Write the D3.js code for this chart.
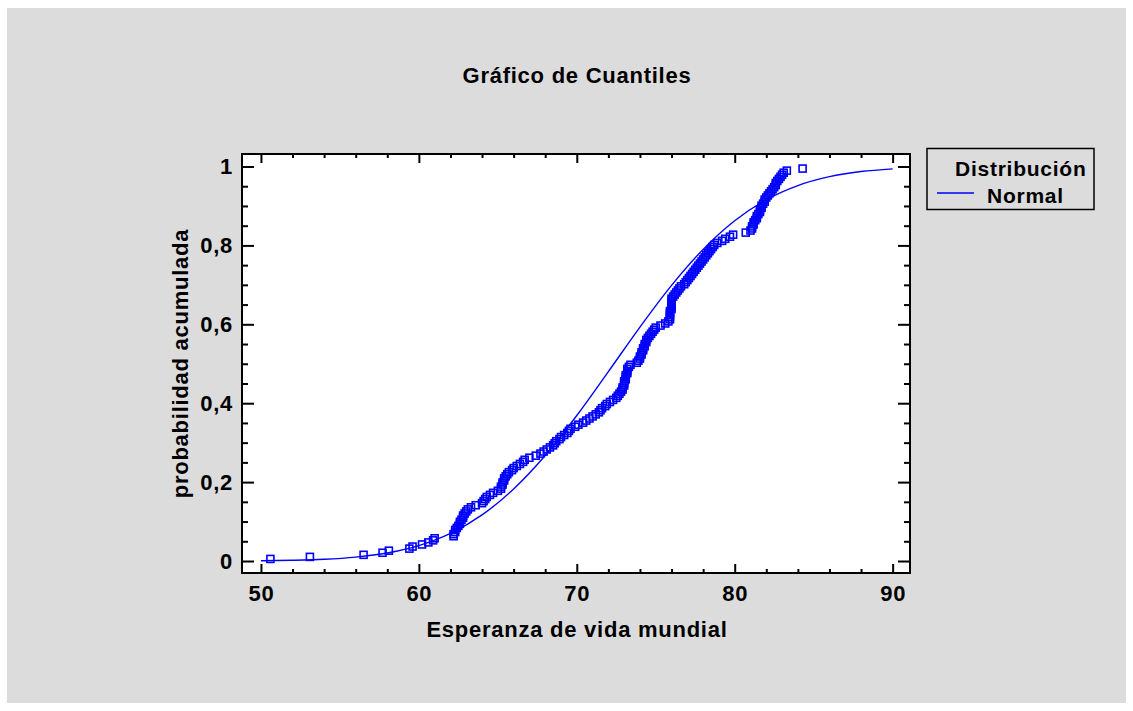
<!DOCTYPE html>
<html>
<head>
<meta charset="utf-8">
<script src="https://cdn.jsdelivr.net/npm/d3@7"></script>
<style>
html,body{margin:0;padding:0;background:#ffffff;}
svg{display:block;}
text{font-family:"Liberation Sans",Arial,sans-serif;font-weight:bold;fill:#000;}
</style>
</head>
<body>
<svg id="chart" width="1133" height="711"></svg>
<script>
// ---- data ----
const title = "Gráfico de Cuantiles";
const xLabel = "Esperanza de vida mundial";
const yLabel = "probabilidad acumulada";
const legendTitle = "Distribución";
const legendItem = "Normal";

// sorted observed values (life expectancy), one per country
const lifeExpectancy = [
  50.6, 53.1, 56.5, 57.7, 58.1, 59.4, 59.6, 60.2, 60.6, 60.9,
  61.0, 62.2, 62.2, 62.3, 62.3, 62.4, 62.5, 62.6, 62.6, 62.7,
  62.8, 62.8, 62.9, 63.0, 63.1, 63.3, 63.6, 64.0, 64.1, 64.2,
  64.3, 64.5, 64.7, 65.0, 65.2, 65.2, 65.3, 65.3, 65.4, 65.4,
  65.5, 65.6, 65.7, 65.9, 66.0, 66.2, 66.4, 66.6, 66.7, 67.0,
  67.4, 67.7, 67.9, 68.1, 68.3, 68.5, 68.6, 68.7, 68.9, 69.0,
  69.2, 69.4, 69.5, 69.6, 69.9, 70.1, 70.4, 70.6, 70.8, 71.0,
  71.2, 71.4, 71.5, 71.6, 71.8, 71.9, 72.1, 72.3, 72.5, 72.6,
  72.7, 72.8, 72.9, 72.9, 73.0, 73.0, 73.0, 73.1, 73.1, 73.1,
  73.2, 73.2, 73.2, 73.3, 73.4, 73.8, 73.9, 74.0, 74.0, 74.1,
  74.1, 74.2, 74.2, 74.3, 74.3, 74.4, 74.4, 74.5, 74.6, 74.7,
  74.8, 74.9, 75.0, 75.3, 75.6, 75.8, 75.9, 75.9, 75.9, 75.9,
  75.9, 76.0, 76.0, 76.0, 76.0, 76.0, 76.0, 76.1, 76.2, 76.3,
  76.4, 76.5, 76.6, 76.8, 76.9, 77.0, 77.1, 77.2, 77.3, 77.4,
  77.5, 77.6, 77.7, 77.8, 77.9, 78.0, 78.1, 78.2, 78.3, 78.4,
  78.5, 78.6, 78.7, 78.9, 79.2, 79.4, 79.7, 79.9, 80.7, 81.0,
  81.1, 81.1, 81.2, 81.2, 81.3, 81.4, 81.4, 81.5, 81.6, 81.6,
  81.7, 81.7, 81.8, 81.9, 81.9, 82.0, 82.1, 82.2, 82.3, 82.4,
  82.5, 82.6, 82.6, 82.7, 82.8, 82.9, 83.0, 83.1, 83.3, 84.3
];

// fitted normal distribution curve
const normalX = [50, 52, 54, 56, 58, 60, 62, 64, 66, 68, 70, 72, 74, 76, 78, 80, 82, 84, 86, 88, 90];
const normalP = [0.0007, 0.0019, 0.0044, 0.0099, 0.0203, 0.0390, 0.0698, 0.1168, 0.1825, 0.2674,
                 0.3688, 0.4801, 0.5930, 0.6987, 0.7899, 0.8624, 0.9157, 0.9517, 0.9742, 0.9872, 0.9941];

const xTicks = [50, 60, 70, 80, 90];
const xMinorTicks = [52, 54, 56, 58, 62, 64, 66, 68, 72, 74, 76, 78, 82, 84, 86, 88];
const yTicks = [0, 0.2, 0.4, 0.6, 0.8, 1];
const yTickLabels = ["0", "0,2", "0,4", "0,6", "0,8", "1"];
const yMinorTicks = [0.05, 0.1, 0.15, 0.25, 0.3, 0.35, 0.45, 0.5, 0.55, 0.65, 0.7, 0.75, 0.85, 0.9, 0.95];

// ---- drawing ----
const svg = d3.select("#chart");
const blue = "#0000ff";
const plot = {left: 242, right: 910, top: 154, bottom: 573};
const ls = "0.75px";

svg.append("rect").attr("x", 7).attr("y", 8).attr("width", 1119).attr("height", 695).attr("fill", "#dcdcdc");

const x = d3.scaleLinear().domain([48.8, 91.1]).range([plot.left, plot.right]);
const y = d3.scaleLinear().domain([-0.0304, 1.0317]).range([plot.bottom, plot.top]);

svg.append("rect").attr("x", plot.left).attr("y", plot.top)
  .attr("width", plot.right - plot.left).attr("height", plot.bottom - plot.top).attr("fill", "#fff");

// title
svg.append("text").attr("x", 577).attr("y", 83).attr("text-anchor", "middle")
  .style("font-size", "22px").style("letter-spacing", ls).text(title);

// axes (ticks inward on all four sides)
const gx = svg.append("g").attr("transform", `translate(0,${plot.bottom})`)
  .call(d3.axisBottom(x).tickValues(xTicks).tickSize(-9).tickPadding(12).tickFormat(d3.format("d")));
const gxm = svg.append("g").attr("transform", `translate(0,${plot.bottom})`)
  .call(d3.axisBottom(x).tickValues(xMinorTicks).tickSize(-4).tickFormat(""));
const gxt = svg.append("g").attr("transform", `translate(0,${plot.top})`)
  .call(d3.axisTop(x).tickValues(xTicks).tickSize(-9).tickFormat(""));
const gxtm = svg.append("g").attr("transform", `translate(0,${plot.top})`)
  .call(d3.axisTop(x).tickValues(xMinorTicks).tickSize(-4).tickFormat(""));

const gy = svg.append("g").attr("transform", `translate(${plot.left},0)`)
  .call(d3.axisLeft(y).tickValues(yTicks).tickSize(-12).tickPadding(9).tickFormat((d, i) => yTickLabels[i]));
const gym = svg.append("g").attr("transform", `translate(${plot.left},0)`)
  .call(d3.axisLeft(y).tickValues(yMinorTicks).tickSize(-6).tickFormat(""));
const gyr = svg.append("g").attr("transform", `translate(${plot.right},0)`)
  .call(d3.axisRight(y).tickValues(yTicks).tickSize(-12).tickFormat(""));
const gyrm = svg.append("g").attr("transform", `translate(${plot.right},0)`)
  .call(d3.axisRight(y).tickValues(yMinorTicks).tickSize(-6).tickFormat(""));

[gx, gxm, gxt, gxtm, gy, gym, gyr, gyrm].forEach(g => {
  g.select(".domain").remove();
  g.selectAll(".tick line").attr("stroke", "#000").attr("stroke-width", 2);
  g.selectAll(".tick text").style("font-size", "22px").style("font-family", "'Liberation Sans',Arial,sans-serif")
    .style("font-weight", "bold").style("letter-spacing", ls).attr("fill", "#000");
});

// frame
svg.append("rect").attr("x", plot.left).attr("y", plot.top)
  .attr("width", plot.right - plot.left).attr("height", plot.bottom - plot.top)
  .attr("fill", "none").attr("stroke", "#000").attr("stroke-width", 2);

// axis titles
svg.append("text").attr("x", 577).attr("y", 637).attr("text-anchor", "middle")
  .style("font-size", "22px").style("letter-spacing", ls).text(xLabel);
svg.append("text").attr("transform", `translate(188,${(plot.top + plot.bottom) / 2}) rotate(-90)`)
  .attr("text-anchor", "middle").style("font-size", "22px").style("letter-spacing", ls).text(yLabel);

// normal curve
const line = d3.line().x(d => x(d[0])).y(d => y(d[1])).curve(d3.curveMonotoneX);
svg.append("path").datum(normalX.map((v, i) => [v, normalP[i]]))
  .attr("d", line).attr("fill", "none").attr("stroke", blue).attr("stroke-width", 1.4);

// empirical quantile points
const n = lifeExpectancy.length;
const pts = lifeExpectancy.map((v, i) => [v, (i + 1) / (n + 1)]);
const s = 7;
svg.append("g").selectAll("rect").data(pts).join("rect")
  .attr("x", d => x(d[0]) - s / 2).attr("y", d => y(d[1]) - s / 2)
  .attr("width", s).attr("height", s)
  .attr("fill", "none").attr("stroke", blue).attr("stroke-width", 1.6);

// legend
const lg = svg.append("g");
lg.append("rect").attr("x", 927).attr("y", 148.5).attr("width", 167).attr("height", 61)
  .attr("fill", "#dcdcdc").attr("stroke", "#000").attr("stroke-width", 1.5);
lg.append("text").attr("x", 955).attr("y", 176)
  .style("font-size", "21px").style("letter-spacing", ls).text(legendTitle);
lg.append("line").attr("x1", 937).attr("x2", 974).attr("y1", 193).attr("y2", 193)
  .attr("stroke", blue).attr("stroke-width", 1.5);
lg.append("text").attr("x", 987).attr("y", 203).style("font-size", "21px").style("letter-spacing", ls).text(legendItem);
</script>
</body>
</html>
